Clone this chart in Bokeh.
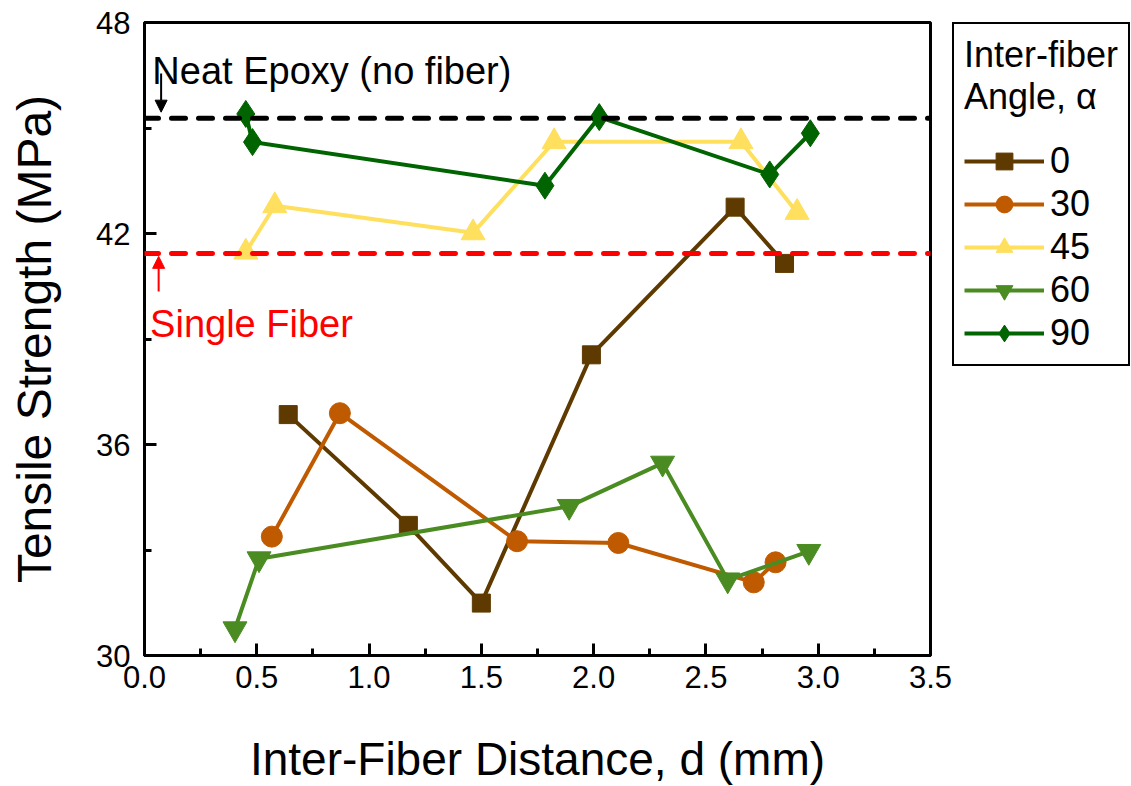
from bokeh.plotting import figure
from bokeh.layouts import row
from bokeh.models import (Span, Label, Arrow, NormalHead, FixedTicker,
                          PrintfTickFormatter, Legend, LegendItem, Range1d)
from bokeh.embed import file_html
from bokeh.resources import INLINE

# ---------------- data ----------------
angles = ["0", "30", "45", "60", "90"]

d_0 = [0.64, 1.175, 1.50, 1.99, 2.63, 2.85]
s_0 = [36.85, 33.70, 31.49, 38.55, 42.75, 41.15]

d_30 = [0.567, 0.870, 1.659, 2.110, 2.713, 2.81]
s_30 = [33.38, 36.89, 33.25, 33.20, 32.08, 32.65]

d_45 = [0.451, 0.580, 1.463, 1.824, 2.656, 2.906]
s_45 = [41.47, 42.79, 42.02, 44.61, 44.61, 42.60]

d_60 = [0.403, 0.510, 1.891, 2.307, 2.597, 2.958]
s_60 = [30.76, 32.75, 34.24, 35.47, 32.15, 32.96]

d_90 = [0.451, 0.481, 1.783, 2.025, 2.784, 2.965]
s_90 = [45.40, 44.60, 43.36, 45.31, 43.68, 44.85]

neat_epoxy = 45.28
single_fiber = 41.43

x_ticks = [0.0, 0.5, 1.0, 1.5, 2.0, 2.5, 3.0, 3.5]
x_minor = [0.25, 0.75, 1.25, 1.75, 2.25, 2.75, 3.25]
y_ticks = [30, 36, 42, 48]
y_minor = [33, 39, 45]

series_d = [d_0, d_30, d_45, d_60, d_90]
series_s = [s_0, s_30, s_45, s_60, s_90]
colors = ["#5E3A00", "#C05A00", "#FFDF5E", "#4A8C22", "#006400"]
markers = ["square", "circle", "triangle", "inverted_triangle", "diamond"]
msizes = [18, 21, 24, 24, 27]

FONT = "Liberation Sans"

p = figure(frame_width=786, frame_height=633,
           x_range=Range1d(0, 3.5), y_range=Range1d(30, 48),
           output_backend="svg", toolbar_location=None,
           min_border_left=144, min_border_top=22, min_border_bottom=131,
           min_border_right=22, background_fill_color="white",
           border_fill_color="white")
p.grid.visible = False
p.outline_line_color = "black"
p.outline_line_width = 3

for ax in (p.xaxis[0], p.yaxis[0]):
    ax.axis_line_width = 3
    ax.major_tick_line_width = 3
    ax.minor_tick_line_width = 3
    ax.major_tick_in = 12
    ax.major_tick_out = 0
    ax.minor_tick_in = 7
    ax.minor_tick_out = 0
    ax.major_label_text_font = FONT
    ax.major_label_text_font_size = "31px"
    ax.major_label_text_color = "black"
    ax.axis_label_text_font = FONT
    ax.axis_label_text_font_style = "normal"
    ax.axis_label_text_color = "black"

p.xaxis[0].ticker = FixedTicker(ticks=x_ticks, minor_ticks=x_minor)
p.xaxis[0].formatter = PrintfTickFormatter(format="%.1f")
p.xaxis[0].major_label_standoff = 10
p.xaxis[0].axis_label = "Inter-Fiber Distance, d (mm)"
p.xaxis[0].axis_label_text_font_size = "46px"
p.xaxis[0].axis_label_standoff = 42

p.yaxis[0].ticker = FixedTicker(ticks=y_ticks, minor_ticks=y_minor)
p.yaxis[0].formatter = PrintfTickFormatter(format="%d")
p.yaxis[0].major_label_standoff = 14
p.yaxis[0].axis_label = "Tensile Strength (MPa)"
p.yaxis[0].axis_label_text_font_size = "48px"
p.yaxis[0].axis_label_standoff = 32

# reference lines
p.add_layout(Span(location=neat_epoxy, dimension="width", line_color="black",
                  line_width=5, line_dash="14 13", line_cap="round"))
p.add_layout(Span(location=single_fiber, dimension="width", line_color="#FF0000",
                  line_width=5, line_dash="14 13", line_cap="round"))

# annotations
p.add_layout(Label(x=0.035, y=46.62, text="Neat Epoxy (no fiber)",
                   text_font=FONT, text_font_size="38px", text_color="black",
                   text_baseline="alphabetic"))
p.add_layout(Arrow(x_start=0.074, y_start=46.55, x_end=0.074, y_end=45.45,
                   line_color="black", line_width=2,
                   end=NormalHead(size=12, fill_color="black", line_color="black")))
p.add_layout(Label(x=0.025, y=39.42, text="Single Fiber",
                   text_font=FONT, text_font_size="38px", text_color="#FF0000",
                   text_baseline="alphabetic"))
p.add_layout(Arrow(x_start=0.063, y_start=40.35, x_end=0.063, y_end=41.35,
                   line_color="#FF0000", line_width=2,
                   end=NormalHead(size=12, fill_color="#FF0000", line_color="#FF0000")))

for dx, sy, c, m, ms in zip(series_d, series_s, colors, markers, msizes):
    p.line(dx, sy, line_color=c, line_width=4)
    p.scatter(dx, sy, marker=m, size=ms, fill_color=c, line_color=c)

# ---------------- legend panel (right of the plot frame) ----------------
# same series drawn again in a tiny panel whose range hides them; they only
# provide the legend swatches
q = figure(width=179, height=786, x_range=Range1d(0, 0.1), y_range=Range1d(0, 0.1),
           output_backend="svg", toolbar_location=None,
           min_border_left=0, min_border_top=20, min_border_bottom=0,
           min_border_right=0, background_fill_color="white",
           border_fill_color="white")
q.axis.visible = False
q.grid.visible = False
q.outline_line_color = None

items = []
for lab, dx, sy, c, m, ms in zip(angles, series_d, series_s, colors, markers, msizes):
    lr = q.line(dx, sy, line_color=c, line_width=4)
    sr = q.scatter(dx, sy, marker=m, size=ms, fill_color=c, line_color=c)
    items.append(LegendItem(label=lab, renderers=[lr, sr]))

legend = Legend(items=items, title="Inter-fiber\nAngle, \u03b1", location="top_left",
                title_text_font=FONT, title_text_font_size="36px",
                title_text_font_style="normal", title_text_color="black",
                title_text_line_height=1.35, title_standoff=22,
                label_text_font=FONT, label_text_font_size="36px",
                label_text_color="black", label_standoff=6,
                glyph_width=80, glyph_height=42, label_height=42,
                spacing=1, padding=10, margin=0,
                border_line_color="black", border_line_width=2,
                border_line_alpha=1.0,
                background_fill_color="white", background_fill_alpha=1.0)
q.add_layout(legend, "center")

layout = row(p, q)
open("out.html", "w").write(file_html(layout, INLINE))
